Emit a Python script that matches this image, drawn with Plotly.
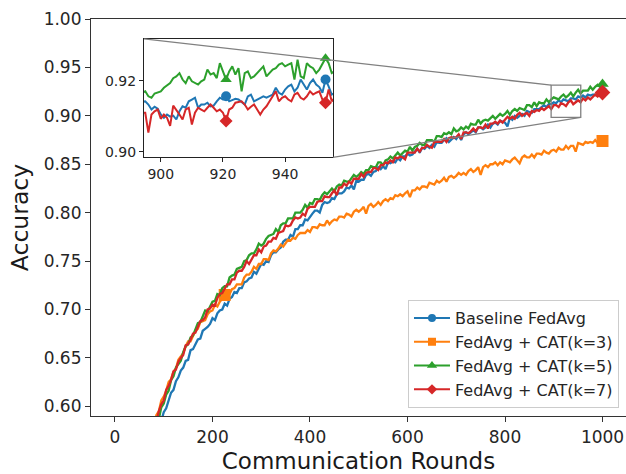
import plotly.graph_objects as go

# ---------------- data ----------------
rounds = list(range(70, 1001, 5))

baseline_fedavg = [
    0.546, 0.551, 0.562, 0.568, 0.574, 0.585, 0.594, 0.598, 0.605, 0.614,
    0.617, 0.626, 0.630, 0.637, 0.640, 0.647, 0.648, 0.658, 0.659, 0.664,
    0.669, 0.670, 0.678, 0.680, 0.682, 0.685, 0.691, 0.689, 0.696, 0.699,
    0.700, 0.706, 0.704, 0.711, 0.713, 0.718, 0.717, 0.722, 0.722, 0.728,
    0.729, 0.732, 0.733, 0.739, 0.737, 0.742, 0.747, 0.746, 0.750, 0.749,
    0.756, 0.759, 0.759, 0.762, 0.764, 0.770, 0.772, 0.772, 0.777, 0.775,
    0.783, 0.783, 0.787, 0.787, 0.793, 0.792, 0.796, 0.799, 0.802, 0.802,
    0.800, 0.808, 0.811, 0.810, 0.811, 0.815, 0.814, 0.819, 0.820, 0.820,
    0.822, 0.826, 0.825, 0.828, 0.824, 0.833, 0.832, 0.834, 0.834, 0.839,
    0.840, 0.838, 0.842, 0.843, 0.847, 0.845, 0.848, 0.845, 0.852, 0.851,
    0.853, 0.852, 0.856, 0.854, 0.858, 0.858, 0.861, 0.859, 0.860, 0.863,
    0.866, 0.862, 0.867, 0.866, 0.869, 0.867, 0.870, 0.868, 0.873, 0.872,
    0.872, 0.875, 0.877, 0.873, 0.876, 0.878, 0.876, 0.880, 0.875, 0.881,
    0.883, 0.881, 0.883, 0.885, 0.883, 0.888, 0.888, 0.886, 0.888, 0.891,
    0.888, 0.892, 0.893, 0.891, 0.895, 0.894, 0.893, 0.889, 0.898, 0.896,
    0.900, 0.898, 0.900, 0.902, 0.900, 0.905, 0.904, 0.903, 0.907, 0.907,
    0.907, 0.909, 0.911, 0.909, 0.912, 0.912, 0.914, 0.913, 0.916, 0.914,
    0.917, 0.916, 0.915, 0.918, 0.918, 0.917, 0.920, 0.919, 0.921, 0.919,
    0.922, 0.921, 0.922, 0.922, 0.922, 0.925, 0.925,
]

cat_k3 = [
    0.565, 0.575, 0.581, 0.591, 0.595, 0.606, 0.610, 0.616, 0.625, 0.628,
    0.636, 0.639, 0.648, 0.651, 0.655, 0.662, 0.667, 0.667, 0.673, 0.678,
    0.680, 0.687, 0.688, 0.689, 0.695, 0.698, 0.699, 0.705, 0.703, 0.708,
    0.711, 0.715, 0.714, 0.716, 0.721, 0.722, 0.726, 0.726, 0.726, 0.733,
    0.736, 0.736, 0.739, 0.744, 0.742, 0.747, 0.747, 0.752, 0.752, 0.751,
    0.758, 0.761, 0.760, 0.763, 0.767, 0.765, 0.769, 0.772, 0.771, 0.774,
    0.773, 0.777, 0.779, 0.779, 0.779, 0.782, 0.780, 0.785, 0.785, 0.784,
    0.788, 0.787, 0.787, 0.792, 0.788, 0.791, 0.793, 0.792, 0.796, 0.796,
    0.795, 0.799, 0.798, 0.796, 0.801, 0.803, 0.801, 0.803, 0.806, 0.799,
    0.807, 0.809, 0.806, 0.808, 0.811, 0.808, 0.812, 0.814, 0.812, 0.815,
    0.814, 0.818, 0.817, 0.819, 0.817, 0.820, 0.822, 0.816, 0.823, 0.823,
    0.826, 0.824, 0.827, 0.827, 0.826, 0.831, 0.830, 0.829, 0.833, 0.831,
    0.833, 0.836, 0.832, 0.837, 0.838, 0.836, 0.838, 0.841, 0.839, 0.841,
    0.839, 0.843, 0.845, 0.842, 0.844, 0.847, 0.839, 0.847, 0.849, 0.847,
    0.850, 0.850, 0.852, 0.849, 0.852, 0.850, 0.854, 0.853, 0.852, 0.855,
    0.857, 0.854, 0.851, 0.857, 0.859, 0.857, 0.857, 0.860, 0.857, 0.861,
    0.861, 0.860, 0.864, 0.862, 0.861, 0.864, 0.865, 0.863, 0.867, 0.865,
    0.865, 0.869, 0.866, 0.869, 0.869, 0.863, 0.872, 0.871, 0.870, 0.873,
    0.872, 0.873, 0.872, 0.875, 0.872, 0.875, 0.874,
]

cat_k5 = [
    0.558, 0.562, 0.574, 0.580, 0.587, 0.599, 0.603, 0.612, 0.616, 0.627,
    0.631, 0.640, 0.643, 0.647, 0.656, 0.662, 0.664, 0.671, 0.673, 0.679,
    0.686, 0.687, 0.693, 0.699, 0.698, 0.703, 0.708, 0.709, 0.716, 0.715,
    0.722, 0.724, 0.724, 0.733, 0.735, 0.736, 0.742, 0.743, 0.744, 0.750,
    0.751, 0.756, 0.758, 0.758, 0.762, 0.768, 0.766, 0.768, 0.773, 0.776,
    0.777, 0.778, 0.783, 0.780, 0.787, 0.789, 0.789, 0.794, 0.794, 0.794,
    0.800, 0.800, 0.800, 0.803, 0.808, 0.805, 0.810, 0.809, 0.814, 0.814,
    0.813, 0.818, 0.821, 0.819, 0.822, 0.825, 0.822, 0.827, 0.829, 0.828,
    0.833, 0.832, 0.832, 0.836, 0.839, 0.837, 0.839, 0.842, 0.840, 0.844,
    0.844, 0.848, 0.847, 0.847, 0.852, 0.852, 0.849, 0.854, 0.855, 0.858,
    0.856, 0.859, 0.862, 0.859, 0.862, 0.864, 0.863, 0.868, 0.864, 0.868,
    0.869, 0.872, 0.870, 0.870, 0.875, 0.875, 0.875, 0.873, 0.879, 0.879,
    0.878, 0.882, 0.881, 0.883, 0.881, 0.887, 0.884, 0.885, 0.888, 0.886,
    0.889, 0.887, 0.892, 0.891, 0.891, 0.896, 0.892, 0.895, 0.896, 0.895,
    0.897, 0.900, 0.897, 0.900, 0.902, 0.900, 0.902, 0.905, 0.901, 0.905,
    0.907, 0.905, 0.908, 0.907, 0.906, 0.911, 0.911, 0.909, 0.914, 0.910,
    0.914, 0.913, 0.913, 0.917, 0.914, 0.917, 0.919, 0.918, 0.917, 0.920,
    0.922, 0.919, 0.921, 0.924, 0.920, 0.924, 0.927, 0.923, 0.926, 0.926,
    0.926, 0.930, 0.927, 0.930, 0.932, 0.930, 0.933,
]

cat_k7 = [
    0.563, 0.573, 0.579, 0.584, 0.595, 0.602, 0.606, 0.617, 0.621, 0.627,
    0.636, 0.638, 0.646, 0.650, 0.653, 0.663, 0.664, 0.669, 0.675, 0.676,
    0.683, 0.688, 0.689, 0.692, 0.700, 0.701, 0.705, 0.704, 0.712, 0.716,
    0.717, 0.721, 0.726, 0.726, 0.731, 0.731, 0.738, 0.740, 0.740, 0.744,
    0.750, 0.747, 0.752, 0.756, 0.756, 0.762, 0.759, 0.765, 0.766, 0.770,
    0.770, 0.774, 0.773, 0.779, 0.780, 0.781, 0.787, 0.786, 0.787, 0.792,
    0.795, 0.794, 0.795, 0.799, 0.797, 0.804, 0.806, 0.806, 0.806, 0.811,
    0.812, 0.812, 0.817, 0.816, 0.816, 0.820, 0.823, 0.818, 0.826, 0.826,
    0.830, 0.828, 0.832, 0.830, 0.835, 0.835, 0.835, 0.840, 0.837, 0.841,
    0.842, 0.842, 0.846, 0.846, 0.844, 0.849, 0.849, 0.852, 0.851, 0.854,
    0.852, 0.857, 0.856, 0.858, 0.857, 0.855, 0.862, 0.862, 0.862, 0.862,
    0.866, 0.863, 0.867, 0.867, 0.870, 0.868, 0.867, 0.873, 0.873, 0.873,
    0.873, 0.876, 0.873, 0.877, 0.878, 0.877, 0.878, 0.881, 0.876, 0.883,
    0.883, 0.882, 0.884, 0.887, 0.884, 0.888, 0.888, 0.887, 0.891, 0.887,
    0.892, 0.892, 0.894, 0.892, 0.895, 0.893, 0.896, 0.899, 0.897, 0.899,
    0.897, 0.901, 0.903, 0.900, 0.902, 0.903, 0.900, 0.905, 0.904, 0.906,
    0.905, 0.908, 0.906, 0.908, 0.910, 0.907, 0.911, 0.911, 0.909, 0.913,
    0.912, 0.910, 0.914, 0.916, 0.912, 0.914, 0.916, 0.914, 0.918, 0.916,
    0.919, 0.917, 0.920, 0.922, 0.920, 0.922, 0.924,
]

# zoomed window (per round)
inset_rounds = list(range(894, 957))
inset_baseline = [
    0.9140, 0.9142, 0.9133, 0.9119, 0.9127, 0.9121, 0.9105, 0.9096, 0.9105, 0.9099,
    0.9102, 0.9091, 0.9114, 0.9128, 0.9124, 0.9142, 0.9147, 0.9152, 0.9124, 0.9133,
    0.9133, 0.9138, 0.9128, 0.9130, 0.9142, 0.9152, 0.9147, 0.9156, 0.9142, 0.9145,
    0.9149, 0.9147, 0.9140, 0.9133, 0.9156, 0.9161, 0.9142, 0.9147, 0.9152, 0.9156,
    0.9152, 0.9156, 0.9161, 0.9180, 0.9166, 0.9161, 0.9175, 0.9184, 0.9189, 0.9170,
    0.9180, 0.9203, 0.9189, 0.9175, 0.9193, 0.9203, 0.9189, 0.9182, 0.9166, 0.9203,
    0.9184, 0.9161, 0.9166,
]
inset_k5 = [
    0.9166, 0.9170, 0.9156, 0.9152, 0.9164, 0.9167, 0.9170, 0.9180, 0.9186, 0.9193,
    0.9207, 0.9212, 0.9221, 0.9203, 0.9193, 0.9212, 0.9198, 0.9193, 0.9189, 0.9198,
    0.9203, 0.9231, 0.9217, 0.9221, 0.9207, 0.9249, 0.9226, 0.9203, 0.9226, 0.9240,
    0.9217, 0.9235, 0.9170, 0.9221, 0.9226, 0.9207, 0.9212, 0.9221, 0.9231, 0.9240,
    0.9212, 0.9221, 0.9231, 0.9235, 0.9245, 0.9249, 0.9240, 0.9245, 0.9249, 0.9203,
    0.9259, 0.9212, 0.9207, 0.9249, 0.9240, 0.9235, 0.9221, 0.9231, 0.9249, 0.9263,
    0.9249, 0.9221, 0.9226,
]
inset_k7 = [
    0.9110, 0.9110, 0.9054, 0.9105, 0.9114, 0.9119, 0.9093, 0.9105, 0.9096, 0.9073,
    0.9130, 0.9119, 0.9105, 0.9091, 0.9119, 0.9124, 0.9077, 0.9110, 0.9124, 0.9119,
    0.9114, 0.9124, 0.9133, 0.9124, 0.9114, 0.9119, 0.9110, 0.9087, 0.9119, 0.9124,
    0.9138, 0.9140, 0.9142, 0.9133, 0.9119, 0.9127, 0.9133, 0.9119, 0.9105, 0.9119,
    0.9128, 0.9142, 0.9156, 0.9170, 0.9142, 0.9152, 0.9156, 0.9147, 0.9142, 0.9161,
    0.9166, 0.9152, 0.9147, 0.9156, 0.9170, 0.9161, 0.9166, 0.9170, 0.9147, 0.9138,
    0.9175, 0.9142, 0.9152,
]

series_names = ["Baseline FedAvg", "FedAvg + CAT(k=3)", "FedAvg + CAT(k=5)", "FedAvg + CAT(k=7)"]
main_marker_rounds = [[1000], [225, 1000], [1000], [1000]]
inset_marker_rounds = [921, 953]

x_ticks = [0, 200, 400, 600, 800, 1000]
y_ticks = [0.60, 0.65, 0.70, 0.75, 0.80, 0.85, 0.90, 0.95, 1.00]
inset_x_ticks = [900, 920, 940]
inset_y_ticks = [0.90, 0.92]

for s in (baseline_fedavg, cat_k3, cat_k5, cat_k7):
    assert len(s) == len(rounds), len(s)
for s in (inset_baseline, inset_k5, inset_k7):
    assert len(s) == len(inset_rounds), len(s)

# ---------------- style ----------------
colors = ["#1f77b4", "#ff7f0e", "#2ca02c", "#d62728"]
symbols = ["circle", "square", "triangle-up", "diamond"]
msize_main = [10, 12, 11, 12]
msize_inset = [10, 11, 10, 10]
msize_leg = [8, 8, 9, 8]
FONT = "DejaVu Sans"

X_RANGE = [-49.2, 1048.2]
Y_RANGE = [0.59, 1.0]
ZOOM_X = [894.6, 955.4]
ZOOM_Y = [0.8985, 0.9317]
INSET_DX = [0.0991, 0.4523]
INSET_DY = [0.6516, 0.9499]

fig = go.Figure()
all_series = [baseline_fedavg, cat_k3, cat_k5, cat_k7]
inset_series = {0: inset_baseline, 2: inset_k5, 3: inset_k7}

for i, ys in enumerate(all_series):
    fig.add_trace(go.Scatter(x=rounds, y=ys, mode="lines",
                             line=dict(color=colors[i], width=2.3),
                             showlegend=False, hoverinfo="skip"))
    mx = main_marker_rounds[i]
    my = [ys[rounds.index(r)] for r in mx]
    fig.add_trace(go.Scatter(x=mx, y=my, mode="markers",
                             marker=dict(symbol=symbols[i], size=msize_main[i], color=colors[i]),
                             showlegend=False, hoverinfo="skip"))

for i in [0, 2, 3]:
    ys = inset_series[i]
    fig.add_trace(go.Scatter(x=inset_rounds, y=ys, mode="lines", xaxis="x2", yaxis="y2",
                             line=dict(color=colors[i], width=2),
                             showlegend=False, hoverinfo="skip"))
    my = [ys[inset_rounds.index(r)] for r in inset_marker_rounds]
    fig.add_trace(go.Scatter(x=inset_marker_rounds, y=my, mode="markers", xaxis="x2", yaxis="y2",
                             marker=dict(symbol=symbols[i], size=msize_inset[i], color=colors[i]),
                             showlegend=False, hoverinfo="skip", cliponaxis=False))

# legend entries
for i, name in enumerate(series_names):
    fig.add_trace(go.Scatter(x=[None], y=[None], mode="lines+markers", name=name,
                             line=dict(color=colors[i], width=2),
                             marker=dict(symbol=symbols[i], size=msize_leg[i], color=colors[i])))


def to_paper(x, y):
    return ((x - X_RANGE[0]) / (X_RANGE[1] - X_RANGE[0]),
            (y - Y_RANGE[0]) / (Y_RANGE[1] - Y_RANGE[0]))


tl = to_paper(ZOOM_X[0], ZOOM_Y[1])
br = to_paper(ZOOM_X[1], ZOOM_Y[0])
gray = "#808080"
shapes = [
    dict(type="rect", xref="x", yref="y", x0=ZOOM_X[0], x1=ZOOM_X[1], y0=ZOOM_Y[0], y1=ZOOM_Y[1],
         line=dict(color=gray, width=1.3)),
    dict(type="line", xref="paper", yref="paper", x0=INSET_DX[0], y0=INSET_DY[1], x1=tl[0], y1=tl[1],
         line=dict(color=gray, width=1.3)),
    dict(type="line", xref="paper", yref="paper", x0=INSET_DX[1], y0=INSET_DY[0], x1=br[0], y1=br[1],
         line=dict(color=gray, width=1.3)),
]

tickfont = dict(family=FONT, size=17, color="#262626")
fig.update_layout(
    width=626, height=474,
    margin=dict(l=91, r=0, t=19, b=56),
    paper_bgcolor="white", plot_bgcolor="white",
    font=dict(family=FONT, color="#262626"),
    shapes=shapes,
    xaxis=dict(range=X_RANGE, tickvals=x_ticks, ticks="outside", ticklen=5, tickwidth=1.2,
               tickcolor="#333", showline=True, linecolor="#333", linewidth=1.2, mirror=True,
               showgrid=False, zeroline=False, tickfont=tickfont,
               title=dict(text="Communication Rounds", font=dict(family=FONT, size=23, color="#1a1a1a"),
                          standoff=11)),
    yaxis=dict(range=Y_RANGE, tickvals=y_ticks, tickformat=".2f", ticks="outside", ticklen=5,
               tickwidth=1.2, tickcolor="#333", showline=True, linecolor="#333", linewidth=1.2,
               mirror=False, showgrid=False, zeroline=False, tickfont=tickfont,
               title=dict(text="Accuracy", font=dict(family=FONT, size=23.5, color="#1a1a1a"),
                          standoff=8)),
    xaxis2=dict(domain=INSET_DX, anchor="y2", range=ZOOM_X, tickvals=inset_x_ticks,
                ticks="outside", ticklen=4, tickwidth=1.1, tickcolor="#222",
                showline=True, linecolor="#222", linewidth=1.3, mirror=True,
                showgrid=False, zeroline=False,
                tickfont=dict(family=FONT, size=14, color="#262626")),
    yaxis2=dict(domain=INSET_DY, anchor="x2", range=ZOOM_Y, tickvals=inset_y_ticks, tickformat=".2f",
                ticks="outside", ticklen=4, tickwidth=1.1, tickcolor="#222",
                showline=True, linecolor="#222", linewidth=1.3, mirror=True,
                showgrid=False, zeroline=False,
                tickfont=dict(family=FONT, size=14, color="#262626")),
    legend=dict(x=0.9869, y=0.02, xanchor="right", yanchor="bottom", itemwidth=36,
                bgcolor="rgba(255,255,255,0.85)", bordercolor="#cccccc", borderwidth=1,
                font=dict(family=FONT, size=16, color="#262626")),
    showlegend=True,
)

fig.write_html("out.html")
